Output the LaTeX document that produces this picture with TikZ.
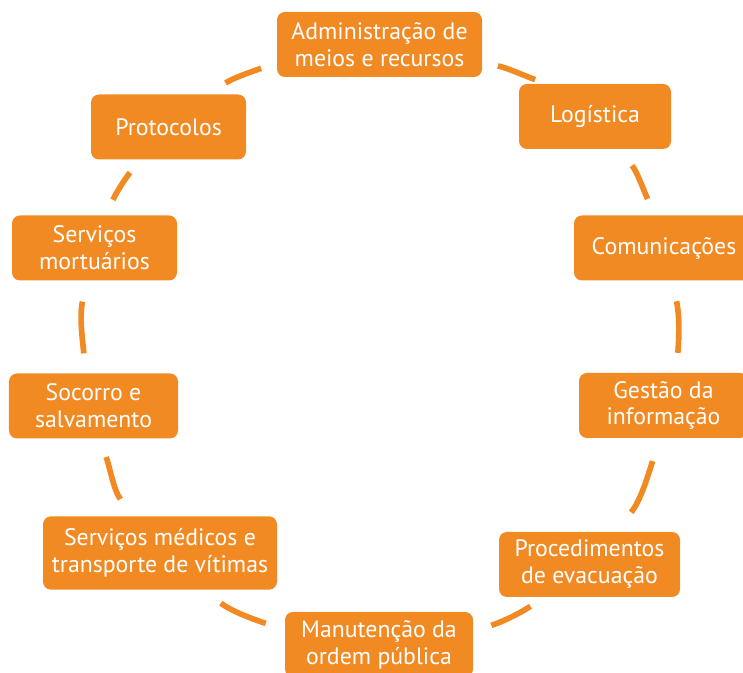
\documentclass[tikz,border=0pt]{standalone}
\usepackage{fontspec}
\setmainfont{PT Sans}
\definecolor{laranja}{RGB}{242,138,36}

\begin{document}
\begin{tikzpicture}[
  caixa/.style={fill=laranja, text=white, rounded corners=0.24cm, align=center,
    minimum height=1.95cm, inner sep=0pt, font=\fontsize{20.3}{23}\selectfont},
  elo/.style={draw=laranja, line width=0.17cm}
]
\useasboundingbox (0,0) rectangle (22.29,20.19);
% Nodes
\node[caixa, minimum width=6.15cm] (admin) at (11.385,18.855) {Administração de\\meios e recursos};
\node[caixa, minimum width=4.56cm] (logist) at (17.85,16.695) {Logística};
\node[caixa, minimum width=5.4cm] (comun) at (19.92,12.75) {Comunicações};
\node[caixa, minimum width=5.07cm] (gestao) at (19.905,8.025) {Gestão da\\informação};
\node[caixa, minimum width=5.43cm] (proced) at (17.685,3.255) {Procedimentos\\de evacuação};
\node[caixa, minimum width=5.64cm] (manut) at (11.37,0.855) {Manutenção da\\ordem pública};
\node[caixa, minimum width=7.02cm, minimum height=2.2cm] (medicos) at (4.8,3.6) {Serviços médicos e\\transporte de vítimas};
\node[caixa, minimum width=5.07cm] (socorro) at (2.805,8.01) {Socorro e\\salvamento};
\node[caixa, minimum width=4.95cm] (mortu) at (2.835,12.75) {Serviços\\mortuários};
\node[caixa, minimum width=4.65cm] (protoc) at (5.055,16.38) {Protocolos};

% Arcs (pieces of one ring, clockwise)
\draw[elo, shorten <=0.48cm, shorten >=0.36cm] (admin.-10) to[out=-12, in=160] (logist.146);
\draw[elo, shorten <=0.63cm, shorten >=0.54cm] (logist.-54) to[out=-51, in=115] (comun.105);
\draw[elo, shorten <=0.63cm, shorten >=0.6cm] (comun.-76) to[out=-78, in=85] (gestao.69);
\draw[elo, shorten <=0.72cm, shorten >=0.74cm] (gestao.-96) to[out=-108, in=52] (proced.51);
\draw[elo, shorten <=0.5cm, shorten >=0.57cm] (proced.-144) to[out=-147, in=18] (manut.8);
\draw[elo, shorten <=0.6cm, shorten >=0.68cm] (manut.171) to[out=162, in=-36] (medicos.-41);
\draw[elo, shorten <=0.62cm, shorten >=0.58cm] (medicos.127) to[out=125, in=-71] (socorro.-79);
\draw[elo, shorten <=0.6cm, shorten >=0.64cm] (socorro.103) to[out=96, in=-102] (mortu.-103);
\draw[elo, shorten <=0.51cm, shorten >=0.49cm] (mortu.71) to[out=65, in=-128] (protoc.-131);
\draw[elo, shorten <=0.6cm, shorten >=0.5cm] (protoc.39) to[out=34, in=-160] (admin.-170);
\end{tikzpicture}
\end{document}
